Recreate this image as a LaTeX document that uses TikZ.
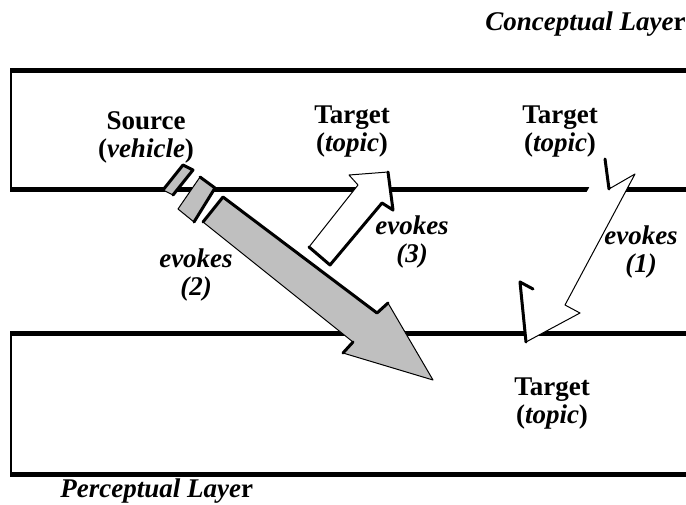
\documentclass[tikz,border=0pt]{standalone}
\usepackage{fontspec}
\setmainfont{Liberation Serif}
\usepackage{tikz}

\tikzset{
  layer line/.style={line width=2.5pt},
  layer side/.style={line width=1pt},
  term/.style={font=\fontsize{13.5}{14}\selectfont\bfseries, align=center, inner sep=0pt, anchor=north},
  evokes text/.style={font=\fontsize{13.5}{14}\selectfont\bfseries\itshape, align=center, inner sep=0pt, anchor=north},
  arrow edge/.style={line width=0.5pt, line join=round},
  arrow shadow/.style={line width=1.5pt, line cap=round, line join=round},
}

\begin{document}
\begin{tikzpicture}[x=0.5pt, y=-0.5pt]
\useasboundingbox (0,0) rectangle (686,504);

% layers
\draw[layer line] (10,70) -- (686,70);
\draw[layer line] (10,189) -- (686,189);
\draw[layer side] (11,70) -- (11,189);

\draw[layer line] (10,333) -- (686,333);
\draw[layer line] (10,474) -- (686,474);
\draw[layer side] (11,333) -- (11,474);

% evokes (2)
\draw[arrow edge, fill=black!25] (163,190) -- (183,165) -- (193,170) -- (173,195) -- cycle;
\draw[arrow shadow] (163,190) -- (183,165) -- (193,170) -- (173,195);
\draw[arrow edge, fill=black!25] (178,209) -- (200,177) -- (215,188) -- (194,222) -- cycle;
\draw[arrow shadow] (200,177) -- (215,188) -- (194,222);
\draw[arrow edge, fill=black!25] (203,222) -- (223,197) -- (377,313) -- (388,303) -- (433,380) -- (343,353) -- (353,342) -- cycle;
\draw[arrow shadow] (203,222) -- (223,197) -- (377,313) -- (388,303);
\draw[arrow shadow] (343,353) -- (353,342);

% evokes (3)
\draw[arrow edge, fill=white] (309,247) -- (358,185) -- (349,175) -- (388,172) -- (393,210) -- (382,203) -- (330,265) -- cycle;
\draw[arrow shadow] (388,172) -- (393,210) -- (382,203) -- (330,265) -- (309,247);

% evokes (1)
\fill[white] (605,159) -- (609,189) -- (635,174) -- (565,305) -- (580,313) -- (526,342) -- (520,282) -- (533,289) -- cycle;
\draw[arrow edge] (609,189) -- (635,174) -- (565,305) -- (580,313) -- (526,342);
\draw[arrow shadow] (605,159) -- (609,189);
\draw[arrow shadow] (526,342) -- (520,282) -- (533,289);

% terms
\node[term] (source) at (146,111) {Source\\(\textit{vehicle})};
\node[term] (target a) at (352,105) {Target\\(\textit{topic})};
\node[term] (target b) at (560,105) {Target\\(\textit{topic})};
\node[term] (target c) at (552,377) {Target\\(\textit{topic})};

\node[evokes text] (evokes b) at (196,248) {evokes\\(2)};
\node[evokes text] (evokes c) at (412,215) {evokes\\(3)};
\node[evokes text] (evokes a) at (641,225) {evokes\\(1)};

\node[font=\fontsize{13.5}{14}\selectfont\bfseries, inner sep=0pt, anchor=base east] (conceptual) at (686,30) {\textit{Conceptual Laye}r};
\node[font=\fontsize{13.5}{14}\selectfont\bfseries, inner sep=0pt, anchor=base west] (perceptual) at (60,497) {\textit{Perceptual Laye}r};

\end{tikzpicture}
\end{document}
